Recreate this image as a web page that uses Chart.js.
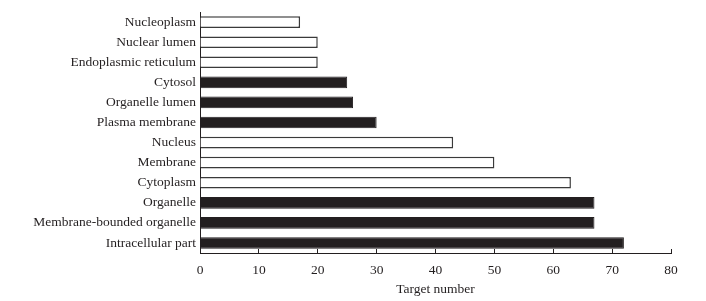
<!DOCTYPE html>
<html>
<head>
<meta charset="utf-8">
<script src="https://cdn.jsdelivr.net/npm/chart.js@4.4.1/dist/chart.umd.min.js"></script>
<style>
  html, body { margin: 0; padding: 0; background: #ffffff; }
  #wrap { width: 706px; height: 301px; position: relative; }
</style>
</head>
<body>
<div id="wrap"><canvas id="c" width="706" height="301"></canvas></div>
<script>
// Categories (top to bottom)
const categories = [
  'Nucleoplasm',
  'Nuclear lumen',
  'Endoplasmic reticulum',
  'Cytosol',
  'Organelle lumen',
  'Plasma membrane',
  'Nucleus',
  'Membrane',
  'Cytoplasm',
  'Organelle',
  'Membrane-bounded organelle',
  'Intracellular part'
];
// Filled (black) bars
const filledValues = [null, null, null, 25, 26, 30, null, null, null, 67, 67, 72];
// Open (white) bars
const openValues   = [17, 20, 20, null, null, null, 43, 50, 63, null, null, null];
// Axis
const xTicks = [0, 10, 20, 30, 40, 50, 60, 70, 80];
const xTitle = 'Target number';

const FONT = "'Liberation Serif', 'Times New Roman', serif";
const TXT = '#231f20';

new Chart(document.getElementById('c'), {
  type: 'bar',
  data: {
    labels: categories,
    datasets: [
      {
        label: 'filled',
        data: filledValues,
        backgroundColor: '#231f20',
        borderColor: '#231f20',
        borderWidth: 1,
        categoryPercentage: 1,
        barPercentage: 0.58
      },
      {
        label: 'open',
        data: openValues,
        backgroundColor: '#ffffff',
        borderColor: '#3a3a3a',
        borderWidth: 1.5,
        categoryPercentage: 1,
        barPercentage: 0.58
      }
    ]
  },
  options: {
    indexAxis: 'y',
    responsive: false,
    animation: false,
    devicePixelRatio: 1,
    layout: { padding: { top: 10, right: 35, left: 0, bottom: 0 } },
    plugins: { legend: { display: false }, tooltip: { enabled: false } },
    scales: {
      x: {
        stacked: true,
        min: 0,
        max: 80,
        afterBuildTicks: (s) => { s.ticks = xTicks.map(v => ({ value: v })); },
        afterFit: (s) => { s.height = 48; },
        grid: { display: true, drawOnChartArea: false, drawTicks: true, tickLength: -4, color: '#231f20', lineWidth: 1 },
        border: { display: true, color: '#231f20', width: 1 },
        ticks: { color: TXT, font: { family: FONT, size: 13.5 }, padding: 13, maxRotation: 0 },
        title: { display: true, text: xTitle, color: TXT, font: { family: FONT, size: 13.5 }, padding: { top: 0, bottom: 3 } }
      },
      y: {
        stacked: true,
        afterFit: (s) => { s.width = 200; },
        grid: { display: false, drawTicks: false },
        border: { display: true, color: '#231f20', width: 1 },
        ticks: { color: TXT, font: { family: FONT, size: 13.5 }, padding: 4, autoSkip: false }
      }
    }
  }
});
</script>
</body>
</html>
